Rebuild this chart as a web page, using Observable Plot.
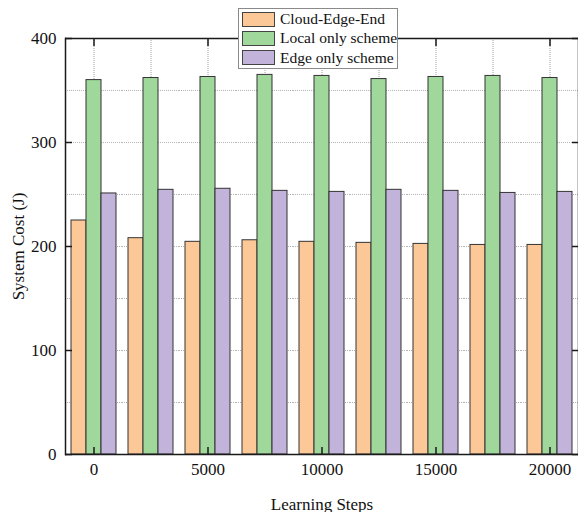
<!DOCTYPE html>
<html>
<head>
<meta charset="utf-8">
<script src="https://cdn.jsdelivr.net/npm/d3@7"></script>
<script src="https://cdn.jsdelivr.net/npm/@observablehq/plot@0.6"></script>
<style>
  html, body { margin: 0; padding: 0; background: #fff; }
  #wrap { position: relative; width: 578px; height: 512px; }
  #legend {
    position: absolute; left: 238px; top: 8px; width: 158px; height: 59px;
    border: 1px solid #8a8a8a; background: #fff;
    font-family: "Liberation Serif", serif; font-size: 15.5px; color: #111;
  }
  .row { position: absolute; left: 3px; height: 16px; display: flex; align-items: center; white-space: nowrap; }
  .sw { width: 33px; height: 15px; border: 1px solid #444; box-sizing: border-box; margin-right: 5px; flex: none; }
</style>
</head>
<body>
<div id="wrap"></div>
<script>
const steps = [0, 2500, 5000, 7500, 10000, 12500, 15000, 17500, 20000];
const seriesNames = ["Cloud-Edge-End", "Local only scheme", "Edge only scheme"];
const seriesColors = ["#fdc897", "#a0d89c", "#c1b3d9"];
const cloudEdgeEnd = [225, 208, 204.5, 206, 204.5, 203.5, 202.5, 201.5, 201.5];
const localOnly = [360, 362, 363, 365, 364, 361, 363, 364, 362];
const edgeOnly = [251, 254.5, 255.5, 253.5, 252.5, 254.5, 253.5, 251.5, 252.5];
const xTicks = [0, 5000, 10000, 15000, 20000];
const yTicks = [0, 100, 200, 300, 400];
const yGrid = [50, 100, 150, 200, 250, 300, 350];

const seriesValues = [cloudEdgeEnd, localOnly, edgeOnly];
const data = steps.flatMap((s, i) => seriesNames.map((name, j) => ({step: s, series: name, value: seriesValues[j][i]})));

const axisStroke = "#1a1a1a";
const gridStyle = {stroke: "#b4b4b4", strokeOpacity: 1, strokeDasharray: "1,1", strokeWidth: 1};

const chart = Plot.plot({
  width: 578,
  height: 512,
  marginLeft: 64,
  marginRight: 0,
  marginTop: 38,
  marginBottom: 58,
  style: {fontFamily: "'Liberation Serif', serif", fontSize: "17px", color: "#111", background: "white"},
  fx: {domain: steps, padding: 0, axis: null},
  x: {domain: seriesNames, paddingInner: 0, paddingOuter: 0.375, axis: null},
  y: {domain: [0, 400], axis: null},
  color: {domain: seriesNames, range: seriesColors},
  marks: [
    Plot.gridY(yGrid, gridStyle),
    Plot.gridX({ticks: [seriesNames[1]], ...gridStyle, stroke: "#a0a0a0"}),
    Plot.barY(data, {fx: "step", x: "series", y: "value", fill: "series", stroke: "#333", strokeWidth: 1}),
    Plot.ruleY([0, 400], {stroke: axisStroke, strokeWidth: 1.5}),
    Plot.frame({anchor: "left", facetAnchor: "left", stroke: axisStroke, strokeWidth: 1.5}),
    Plot.frame({anchor: "right", facetAnchor: "right", stroke: axisStroke, strokeWidth: 1.5}),
    Plot.axisY(yTicks, {anchor: "left", tickSize: -7, tickPadding: 16, strokeWidth: 1.5, stroke: axisStroke,
      label: "System Cost (J)", labelAnchor: "center", labelArrow: "none", labelOffset: 54}),
    Plot.axisY(yTicks, {anchor: "right", tickSize: -7, strokeWidth: 1.5, stroke: axisStroke, tickFormat: () => "", label: null}),
    Plot.axisFx({ticks: xTicks, anchor: "bottom", tickSize: -7, tickPadding: 15, strokeWidth: 1.5, stroke: axisStroke,
      tickFormat: d => String(d), label: "Learning Steps", labelAnchor: "center", labelArrow: "none", labelOffset: 55}),
    Plot.axisFx({ticks: xTicks, anchor: "top", tickSize: -7, strokeWidth: 1.5, stroke: axisStroke, tickFormat: () => "", label: null})
  ]
});

const wrap = document.getElementById("wrap");
wrap.appendChild(chart);

const legend = document.createElement("div");
legend.id = "legend";
seriesNames.forEach((name, j) => {
  const row = document.createElement("div");
  row.className = "row";
  row.style.top = (2 + j * 19.3) + "px";
  const sw = document.createElement("div");
  sw.className = "sw";
  sw.style.background = seriesColors[j];
  const label = document.createElement("span");
  label.textContent = name;
  row.appendChild(sw);
  row.appendChild(label);
  legend.appendChild(row);
});
wrap.appendChild(legend);
</script>
</body>
</html>
